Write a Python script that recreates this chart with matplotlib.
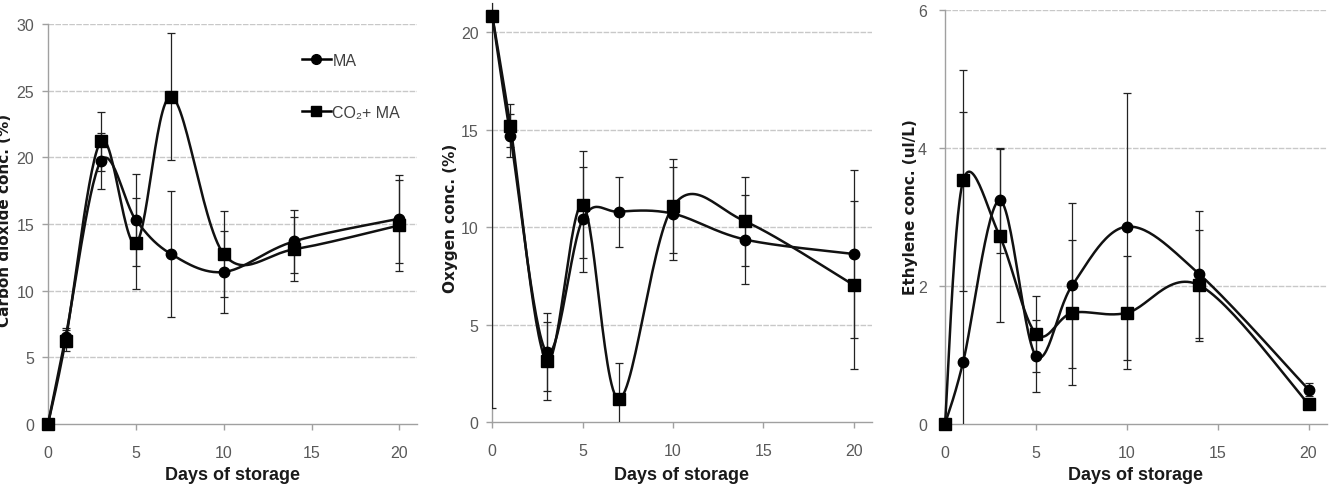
import numpy as np
import matplotlib
matplotlib.use("Agg")
import matplotlib.pyplot as plt
from matplotlib.lines import Line2D

days = [0, 1, 3, 5, 7, 10, 14, 20]

co2_ma = [0, 6.5, 19.7, 15.3, 12.75, 11.4, 13.7, 15.4]
co2_ma_err = [0, 0.7, 2.1, 3.45, 4.7, 3.1, 2.35, 3.3]
co2_co2ma = [0, 6.25, 21.2, 13.55, 24.55, 12.75, 13.1, 14.9]
co2_co2ma_err = [0, 0.8, 2.2, 3.4, 4.75, 3.2, 2.4, 3.4]

o2_ma = [20.85, 14.7, 3.6, 10.4, 10.8, 10.7, 9.37, 8.63]
o2_ma_err = [0, 1.1, 2.0, 2.7, 1.8, 2.4, 2.3, 4.3]
o2_co2ma = [20.85, 15.2, 3.16, 11.16, 1.2, 11.08, 10.3, 7.04]
o2_co2ma_err = [20.1, 1.1, 2.0, 2.75, 1.85, 2.4, 2.3, 4.3]

eth_ma = [0, 0.9, 3.24, 0.99, 2.01, 2.86, 2.17, 0.5]
eth_ma_err = [0, 3.62, 0.76, 0.52, 1.2, 1.93, 0.92, 0.1]
eth_co2ma = [0, 3.53, 2.73, 1.31, 1.61, 1.61, 2.01, 0.29]
eth_co2ma_err = [0, 1.6, 1.25, 0.55, 1.05, 0.82, 0.8, 0.06]

labels = ["MA", "CO\u2082+ MA"]
ylabels = ["Carbon dioxide conc. (%)", "Oxygen conc. (%)", "Ethylene conc. (ul/L)"]
xlabel = "Days of storage"
xticks = [0, 5, 10, 15, 20]
yticks = [[0, 5, 10, 15, 20, 25, 30], [0, 5, 10, 15, 20], [0, 2, 4, 6]]
ylims = [(0, 30), (0, 21.5), (0, 6)]

W, H = 1334, 485
fig = plt.figure(figsize=(W / 100, H / 100), dpi=100)

tick_font = ["Liberation Sans Narrow", "Liberation Sans", "DejaVu Sans"]
ylab_font = ["DejaVu Sans"]
xlab_font = ["Liberation Sans Narrow", "Liberation Sans", "DejaVu Sans"]

# axes rectangles in pixels: left, right, top, bottom
rects = [(48, 417, 25, 425), (492.3, 871.7, 4, 423.3), (945, 1326.7, 11, 425)]
ylab_x = [5, 450, 910]
ylab_y = [220, 218, 207]
ypads = [6, 6, 9]


def smooth(x, y, sx, sy, n=30):
    px = np.asarray(x, float) * sx
    py = np.asarray(y, float) * sy
    P = np.column_stack([px, py])
    out = [P[0]]
    m = len(P)
    for i in range(m - 1):
        p0 = P[i - 1] if i > 0 else P[i]
        p1 = P[i]
        p2 = P[i + 1]
        p3 = P[i + 2] if i + 2 < m else P[i + 1]
        c1 = p1 + (p2 - p0) / 6.0
        c2 = p2 - (p3 - p1) / 6.0
        t = np.linspace(0, 1, n)[1:, None]
        seg = ((1 - t) ** 3) * p1 + 3 * ((1 - t) ** 2) * t * c1 + 3 * (1 - t) * t ** 2 * c2 + t ** 3 * p2
        out.extend(seg)
    out = np.array(out)
    return out[:, 0] / sx, out[:, 1] / sy


data = [
    (co2_ma, co2_ma_err, co2_co2ma, co2_co2ma_err),
    (o2_ma, o2_ma_err, o2_co2ma, o2_co2ma_err),
    (eth_ma, eth_ma_err, eth_co2ma, eth_co2ma_err),
]

for k in range(3):
    l, r, t, b = rects[k]
    ax = fig.add_axes([l / W, (H - b) / H, (r - l) / W, (b - t) / H])
    xlim = (0, 21)
    ax.set_xlim(*xlim)
    ax.set_ylim(*ylims[k])
    sx = (r - l) / (xlim[1] - xlim[0])
    sy = (b - t) / (ylims[k][1] - ylims[k][0])
    ma, ma_e, cm, cm_e = data[k]
    for vals, errs in ((ma, ma_e), (cm, cm_e)):
        ax.errorbar(days, vals, yerr=errs, fmt="none", ecolor="#222222",
                    elinewidth=0.9, capsize=3, capthick=0.9, zorder=3)
    for vals, mk, ms in ((ma, "o", 7.5), (cm, "s", 8.2)):
        xs, ys = smooth(days, vals, sx, sy)
        ax.plot(xs, ys, color="#111111", lw=1.8, zorder=4, clip_on=False,
                solid_capstyle="round")
        ax.plot(days, vals, linestyle="none", marker=mk, ms=ms, color="black",
                zorder=5, clip_on=False)
    for sp in ("top", "right"):
        ax.spines[sp].set_visible(False)
    for sp in ("left", "bottom"):
        ax.spines[sp].set_color("#a0a0a0")
        ax.spines[sp].set_linewidth(1.0)
    ax.set_xticks(xticks)
    ax.set_yticks(yticks[k])
    for yv in yticks[k][1:]:
        ax.axhline(yv, color="#c8c8c8", lw=1.0, ls=(0, (4, 1)), zorder=1)
    ax.tick_params(axis="both", colors="#a0a0a0", labelcolor="#595959",
                   length=4, width=1, labelsize=11.5)
    ax.tick_params(axis="x", pad=11)
    ax.tick_params(axis="y", pad=ypads[k])
    for lab in ax.get_xticklabels() + ax.get_yticklabels():
        lab.set_fontfamily(tick_font)
    fig.text(ylab_x[k] / W, 1 - ylab_y[k] / H, ylabels[k], rotation=90,
             ha="center", va="center", fontsize=11, fontweight="bold",
             family=ylab_font, color="#1a1a1a")
    fig.text(((l + r) / 2) / W, 1 - 476 / H, xlabel, ha="center", va="center",
             fontsize=13, fontweight="bold", family=xlab_font, color="#1a1a1a")
    if k == 0:
        handles = [Line2D([], [], color="black", lw=1.8, marker="o", ms=7),
                   Line2D([], [], color="black", lw=1.8, marker="s", ms=7)]
        leg = ax.legend(handles, labels, loc="upper left",
                        bbox_to_anchor=((302 - l) / (r - l), (b - 54) / (b - t)),
                        frameon=False, handlelength=1.8, handletextpad=0.1,
                        labelspacing=2.3, borderpad=0, borderaxespad=0,
                        prop={"family": tick_font, "size": 11.5})
        for txt in leg.get_texts():
            txt.set_color("#404040")

fig.savefig("out.png", dpi=100)
